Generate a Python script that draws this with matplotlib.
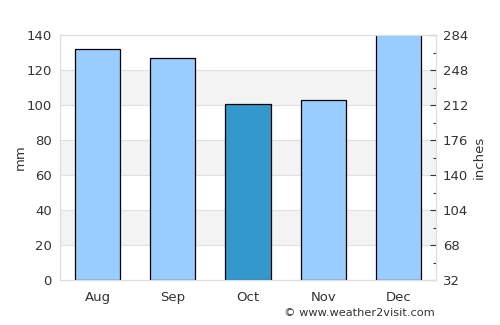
import matplotlib
matplotlib.use("Agg")
from matplotlib import pyplot as plt

months = ["Aug", "Sep", "Oct", "Nov", "Dec"]
rain_mm = [132, 127, 100.5, 103, 142]
bar_colors = ["#99ccff", "#99ccff", "#3399cc", "#99ccff", "#99ccff"]
left_ticks = [0, 20, 40, 60, 80, 100, 120, 140]
right_labels = ["32", "68", "104", "140", "176", "212", "248", "284"]

plt.rcParams['font.family'] = ['DejaVu Sans']
fig = plt.figure(figsize=(5, 3.25), dpi=100)
ax = fig.add_axes([0.12, 0.138, 0.752, 0.754])

# alternating background bands
for lo in (20, 60, 100):
    ax.axhspan(lo, lo + 20, color="#f3f3f3", zorder=0, lw=0)
for t in left_ticks:
    ax.axhline(t, color="#e0e0e0", lw=0.8, zorder=0.5)

x = range(len(months))
ax.bar(x, rain_mm, width=0.6, color=bar_colors, edgecolor="black",
       linewidth=0.9, zorder=2)

ax.set_xlim(-0.5, 4.5)
ax.set_ylim(0, 140)
ax.set_yticks(left_ticks)
ax.set_xticks(list(x))
ax.set_xticklabels(months)
ax.tick_params(axis="both", length=0, colors="#333333", labelsize=9.5, pad=6)
ax.tick_params(axis="x", pad=7.5)
ax.set_ylabel("mm", color="#333333", fontsize=9.5, labelpad=0)
for s in ax.spines.values():
    s.set_color("#dddddd")

ax2 = ax.twinx()
ax2.set_ylim(0, 140)
ax2.set_yticks(left_ticks)
ax2.set_yticklabels(right_labels)
ax2.set_yticks([10, 30, 50, 70, 90, 110, 130], minor=True)
ax2.tick_params(axis="y", which="major", direction="in", length=4, width=0.8,
                colors="#333333", labelsize=9.5, pad=5)
ax2.tick_params(axis="y", which="minor", direction="in", length=2.5,
                width=0.8, color="#333333")
ax2.set_ylabel("inches", color="#333333", fontsize=9.5, labelpad=3)
for s in ax2.spines.values():
    s.set_color("#dddddd")

fig.text(0.87, 0.02, "\u00a9 www.weather2visit.com", ha="right", va="bottom",
         fontsize=8.2, color="#333333")

fig.savefig("out.png", dpi=100)
